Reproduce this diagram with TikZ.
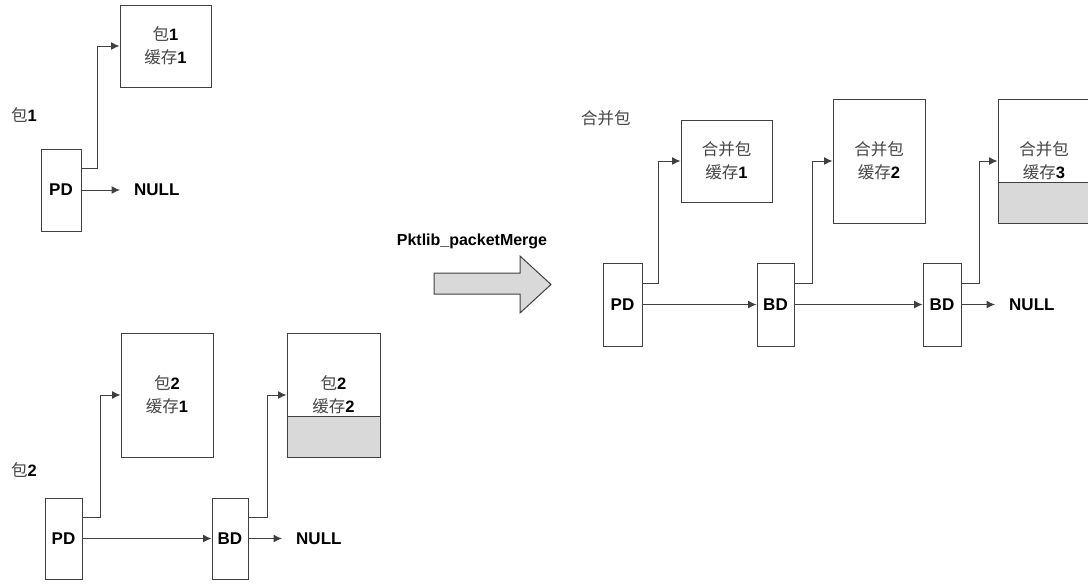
\documentclass[tikz,border=0pt]{standalone}
\usepackage{fontspec}
\setmainfont{Liberation Sans}
\newfontfamily\cjk{Noto Sans CJK SC}
\definecolor{LineGray}{RGB}{64,64,64}
\definecolor{TextGray}{RGB}{70,70,70}
\definecolor{FillGray}{RGB}{217,217,217}
\usetikzlibrary{positioning,calc,arrows.meta}
\tikzset{>={Latex[length=8.5pt,width=8pt]}}
\tikzset{mybuf/.style={draw=LineGray,rectangle,line width=1pt,align=center,inner sep=0pt,font=\fontsize{16.5}{23}\selectfont}}
\tikzset{myfull/.style={mybuf,path picture={
    \fill[FillGray] (path picture bounding box.south west) rectangle ([yshift=41pt]path picture bounding box.south east);
    \draw[LineGray,line width=1pt] ([yshift=41pt]path picture bounding box.south west) -- ([yshift=41pt]path picture bounding box.south east);}}}
\tikzset{mydesc/.style={draw=LineGray,rectangle,line width=1pt,inner sep=0pt,font=\fontsize{17}{17}\selectfont\bfseries}}
\tikzset{mynull/.style={anchor=west,inner xsep=14pt,inner ysep=0pt,font=\fontsize{17}{17}\selectfont\bfseries}}
\tikzset{mylabel/.style={anchor=west,inner sep=0pt,font=\fontsize{16.5}{16.5}\selectfont}}
\tikzset{mylink/.style={->,draw=LineGray,line width=1pt}}
\newcommand{\zh}[1]{{\color{TextGray}\cjk #1}}
\begin{document}
\begin{tikzpicture}[x=1pt,y=-1pt]
    \useasboundingbox (0,0) rectangle (1088,584);
    % packet 1
    \node[mylabel] (lbl1) at (11,115) {\zh{包}\textbf{1}};
    \node[mybuf,minimum width=91pt,minimum height=82pt] (buf11) at (165.5,46) {\zh{包}\textbf{1}\\\zh{缓存}\textbf{1}};
    \node[mydesc,minimum width=40pt,minimum height=82pt] (pd1) at (61,190) {PD};
    \node[mynull] (null1) at (120,190) {NULL};
    \draw[mylink] ([yshift=-20pt]pd1.north east) -- ++(16,0) |- (buf11.west);
    \draw[mylink] (pd1) -- (null1);
    % packet 2
    \node[mylabel] (lbl2) at (11,470) {\zh{包}\textbf{2}};
    \node[mybuf,minimum width=92pt,minimum height=124pt] (buf21) at (167,395) {\zh{包}\textbf{2}\\\zh{缓存}\textbf{1}};
    \node[myfull,minimum width=93pt,minimum height=124pt] (buf22) at (333.5,395) {\zh{包}\textbf{2}\\\zh{缓存}\textbf{2}};
    \node[mydesc,minimum width=37pt,minimum height=81pt] (pd2) at (63.5,538.5) {PD};
    \node[mydesc,minimum width=36pt,minimum height=81pt] (bd2) at (230,538.5) {BD};
    \node[mynull] (null2) at (282,538.5) {NULL};
    \draw[mylink] ([yshift=-20pt]pd2.north east) -- ++(18,0) |- (buf21.west);
    \draw[mylink] ([yshift=-20pt]bd2.north east) -- ++(19,0) |- (buf22.west);
    \draw[mylink] (pd2) -- (bd2);
    \draw[mylink] (bd2) -- (null2);
    % merge arrow
    \node[inner sep=0pt,font=\fontsize{16}{16}\selectfont\bfseries] (merge) at (472,241) {Pktlib\_packetMerge};
    \draw[LineGray,fill=FillGray,line width=1pt] (434,273) -- (520,273) -- (520,256) -- (551,284.5) -- (520,313) -- (520,294) -- (434,294) -- cycle;
    % merged packet
    \node[mylabel] (lblm) at (581,118) {\zh{合并包}};
    \node[mybuf,minimum width=91pt,minimum height=82pt] (bufm1) at (726.5,161) {\zh{合并包}\\\zh{缓存}\textbf{1}};
    \node[mybuf,minimum width=92pt,minimum height=124pt] (bufm2) at (879,161) {\zh{合并包}\\\zh{缓存}\textbf{2}};
    \node[myfull,minimum width=92pt,minimum height=124pt] (bufm3) at (1044,161) {\zh{合并包}\\\zh{缓存}\textbf{3}};
    \node[mydesc,minimum width=39pt,minimum height=83pt] (pdm) at (622.5,304.5) {PD};
    \node[mydesc,minimum width=37pt,minimum height=83pt] (bdm1) at (775.5,304.5) {BD};
    \node[mydesc,minimum width=38pt,minimum height=83pt] (bdm2) at (942,304.5) {BD};
    \node[mynull] (nullm) at (995,304.5) {NULL};
    \draw[mylink] ([yshift=-21pt]pdm.north east) -- ++(16,0) |- (bufm1.west);
    \draw[mylink] ([yshift=-21pt]bdm1.north east) -- ++(18,0) |- (bufm2.west);
    \draw[mylink] ([yshift=-21pt]bdm2.north east) -- ++(18,0) |- (bufm3.west);
    \draw[mylink] (pdm) -- (bdm1);
    \draw[mylink] (bdm1) -- (bdm2);
    \draw[mylink] (bdm2) -- (nullm);
\end{tikzpicture}
\end{document}
